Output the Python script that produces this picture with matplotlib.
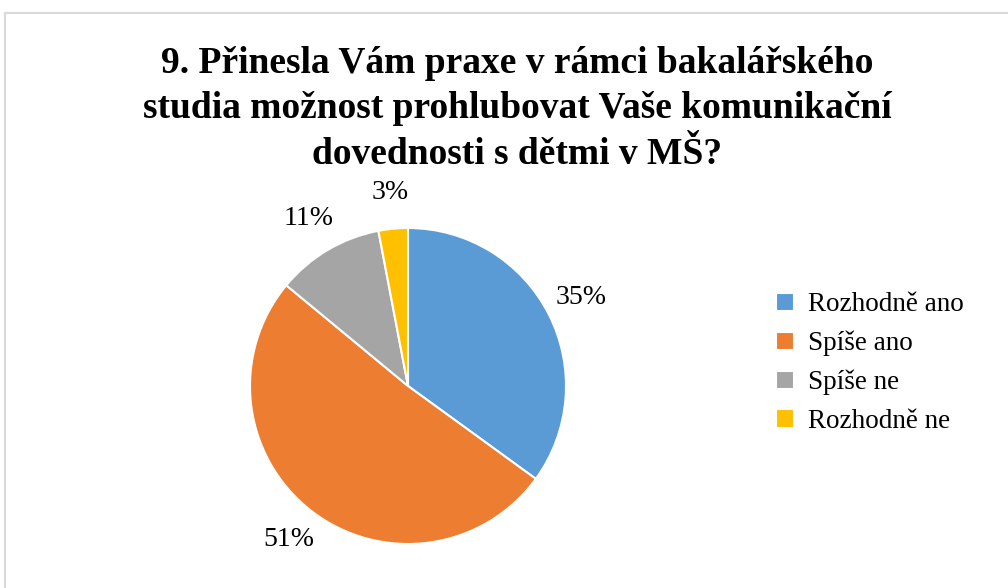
import matplotlib.pyplot as plt
from matplotlib.patches import Rectangle

plt.rcParams['font.family'] = ['Liberation Serif', 'DejaVu Serif']

title = "9. Přinesla Vám praxe v rámci bakalářského\nstudia možnost prohlubovat Vaše komunikační\ndovednosti s dětmi v MŠ?"
categories = ["Rozhodně ano", "Spíše ano", "Spíše ne", "Rozhodně ne"]
values = [35, 51, 11, 3]
colors = ["#5B9BD5", "#ED7D31", "#A5A5A5", "#FFC000"]

W, H = 1008, 588
fig = plt.figure(figsize=(W / 100, H / 100), dpi=100)

# chart area border (cut off at right/bottom like the screenshot)
fig.add_artist(Rectangle((5 / W, -0.05), 1.1, (H - 13) / H + 0.05,
                         transform=fig.transFigure, fill=False,
                         edgecolor="#d9d9d9", linewidth=1.5))

fig.text(517 / W, 1 - 109 / H, title, ha="center", va="center",
         fontsize=27, fontweight="bold", linespacing=1.4)

cx, cy, r = 408, 386, 158
ax = fig.add_axes([(cx - r) / W, (H - cy - r) / H, 2 * r / W, 2 * r / H])
wedges, texts, autotexts = ax.pie(values, colors=colors, startangle=90,
                                  counterclock=False, autopct="%1.0f%%",
                                  pctdistance=1.23,
                                  wedgeprops=dict(edgecolor="white", linewidth=1.5),
                                  textprops=dict(fontsize=20))
ax.set_xlim(-1, 1)
ax.set_ylim(-1, 1)
ax.set_aspect("equal")

fig.legend(wedges, categories, loc="upper left",
           bbox_to_anchor=(752 / W, 1 - 268 / H), frameon=False,
           fontsize=19.5, handlelength=0.65, handleheight=0.65,
           handletextpad=0.5, labelspacing=0.5)

fig.savefig("out.png", dpi=100)
